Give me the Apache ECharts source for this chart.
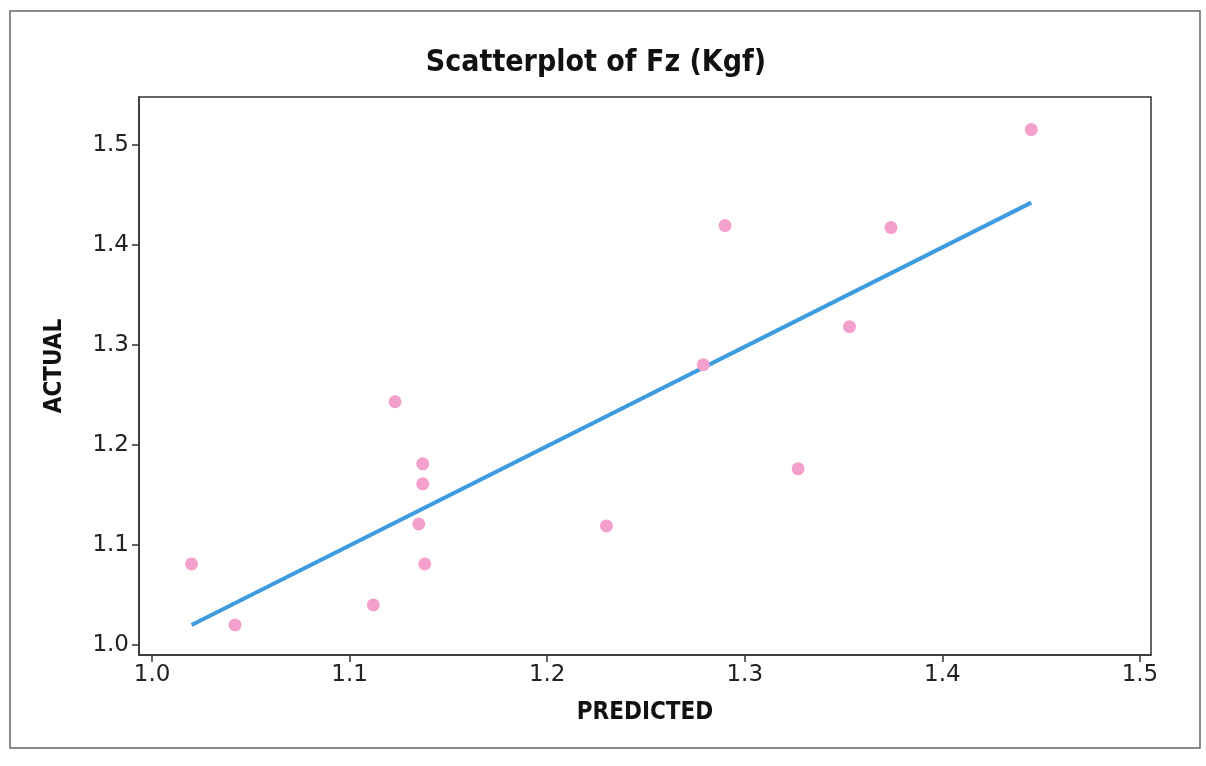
<!DOCTYPE html>
<html>
<head>
<meta charset="utf-8">
<script src="https://cdn.jsdelivr.net/npm/echarts@6/dist/echarts.min.js"></script>
<style>
html,body{margin:0;padding:0;background:#fff;}
#chart{width:1206px;height:766px;}
</style>
</head>
<body>
<div id="chart"></div>
<script>
// Data
const predicted = [1.020, 1.042, 1.112, 1.123, 1.137, 1.137, 1.135, 1.138, 1.230, 1.279, 1.290, 1.327, 1.353, 1.374, 1.445];
const actual    = [1.081, 1.020, 1.040, 1.243, 1.181, 1.161, 1.121, 1.081, 1.119, 1.280, 1.419, 1.176, 1.318, 1.417, 1.515];
const fitX = [1.020, 1.445];
const fitY = [1.020, 1.442];
const xTicks = [1.0, 1.1, 1.2, 1.3, 1.4, 1.5];
const yTicks = [1.0, 1.1, 1.2, 1.3, 1.4, 1.5];
const titleText = 'Scatterplot of Fz (Kgf)';
const xName = 'PREDICTED';
const yName = 'ACTUAL';

const chart = echarts.init(document.getElementById('chart'), null, {renderer: 'canvas'});
const axisColor = '#333';
const labelStyle = {color: '#222', fontFamily: 'DejaVu Sans', fontSize: 23};
const nameStyle = {color: '#111', fontFamily: 'DejaVu Sans Condensed', fontWeight: 'bold', fontSize: 24};

chart.setOption({
  animation: false,
  backgroundColor: '#fff',
  title: {
    text: titleText,
    left: 591,
    top: 43,
    textAlign: 'center',
    textStyle: {color: '#111', fontFamily: 'DejaVu Sans Condensed', fontWeight: 'bold', fontSize: 30}
  },
  graphic: [{
    type: 'rect',
    shape: {x: 10, y: 11, width: 1190, height: 737},
    style: {fill: 'none', stroke: '#666', lineWidth: 1.5},
    silent: true, z: -1
  }],
  grid: {
    left: 139, right: 55, top: 97, bottom: 111,
    show: true, borderColor: axisColor, borderWidth: 1.5, backgroundColor: 'transparent'
  },
  xAxis: {
    type: 'value',
    min: 0.9934, max: 1.5056,
    name: xName, nameLocation: 'middle', nameGap: 46,
    nameTextStyle: nameStyle,
    splitLine: {show: false},
    axisLine: {show: true, lineStyle: {color: axisColor, width: 1.5}},
    axisTick: {show: true, inside: false, length: 7, lineStyle: {color: axisColor, width: 1.5}, customValues: xTicks},
    axisLabel: {margin: 9, customValues: xTicks, formatter: v => v.toFixed(1), ...labelStyle}
  },
  yAxis: {
    type: 'value',
    min: 0.990, max: 1.5475,
    name: yName, nameLocation: 'middle', nameGap: 72, nameRotate: 90,
    nameTextStyle: Object.assign({padding: [0, 0, 0, 20]}, nameStyle),
    splitLine: {show: false},
    axisLine: {show: true, lineStyle: {color: axisColor, width: 1.5}},
    axisTick: {show: true, inside: false, length: 7, lineStyle: {color: axisColor, width: 1.5}, customValues: yTicks},
    axisLabel: {margin: 10, customValues: yTicks, formatter: v => v.toFixed(1), ...labelStyle}
  },
  series: [
    {
      type: 'line',
      data: fitX.map((x, i) => [x, fitY[i]]),
      symbol: 'none',
      lineStyle: {color: '#3d9be0', width: 4},
      z: 2
    },
    {
      type: 'scatter',
      data: predicted.map((x, i) => [x, actual[i]]),
      symbol: 'circle',
      symbolSize: 13,
      itemStyle: {color: '#f4a0cc', opacity: 1},
      z: 3
    }
  ]
});
</script>
</body>
</html>
